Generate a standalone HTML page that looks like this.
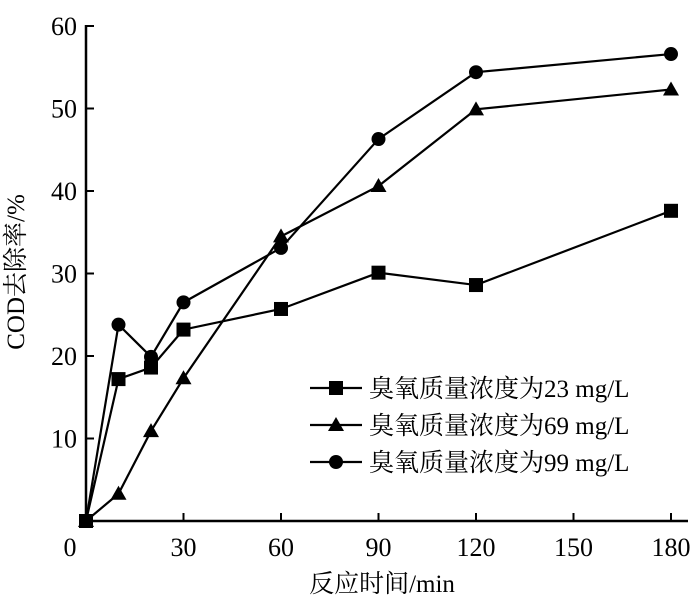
<!DOCTYPE html>
<html><head><meta charset="utf-8"><style>
body{margin:0;background:#fff}
text{font-family:"Liberation Serif","Noto Serif CJK SC",serif;fill:#000}
</style></head><body>
<svg id="c" width="700" height="601" xmlns="http://www.w3.org/2000/svg"></svg>
<script>
const times=[0,10,20,30,60,90,120,180];
const s23=[0,17.2,18.6,23.2,25.7,30.1,28.6,37.6];
const s69=[0,3.3,10.9,17.3,34.5,40.6,49.9,52.3];
const s99=[0,23.8,19.9,26.5,33.1,46.3,54.4,56.6];
const xTicks=[0,30,60,90,120,150,180];
const yTicks=[10,20,30,40,50,60];
const seriesNames=["臭氧质量浓度为23 mg/L","臭氧质量浓度为69 mg/L","臭氧质量浓度为99 mg/L"];
const NS="http://www.w3.org/2000/svg";
const svg=document.getElementById('c');
const X=v=>86+v*585/180, Y=v=>521-v*495/60;
function mk(t,a,p){const e=document.createElementNS(NS,t);for(const k in a)e.setAttribute(k,a[k]);(p||svg).appendChild(e);return e;}
let ax=mk('line',{x1:86,y1:521,x2:688,y2:521,stroke:'#000','stroke-width':2.5});

let ay=mk('line',{x1:86,y1:521,x2:86,y2:25,stroke:'#000','stroke-width':2.5});

xTicks.forEach(v=>{if(v>0)mk('line',{x1:X(v),y1:521,x2:X(v),y2:513,stroke:'#000','stroke-width':2});
 const t=mk('text',{x:X(v)-(v==0?16:0),y:556,'text-anchor':'middle','font-size':26});t.textContent=v;
 });
yTicks.forEach(v=>{mk('line',{x1:86,y1:Y(v),x2:94,y2:Y(v),stroke:'#000','stroke-width':2});
 const t=mk('text',{x:77,y:Y(v)+9,'text-anchor':'end','font-size':26});t.textContent=v;
 });
let xt=mk('text',{x:382,y:592,'text-anchor':'middle','font-size':25});xt.textContent='反应时间/min';

let yt=mk('text',{x:0,y:0,'text-anchor':'middle','font-size':25,transform:'translate(24,272) rotate(-90)'});yt.textContent='COD去除率/%';

function marker(type,x,y,g){
 if(type==0)mk('rect',{x:x-7,y:y-7,width:14,height:14,fill:'#000'},g);
 else if(type==1)mk('polygon',{points:`${x},${y-8} ${x-8},${y+6} ${x+8},${y+6}`,fill:'#000'},g);
 else mk('circle',{cx:x,cy:y,r:7,fill:'#000'},g);}
[s23,s69,s99].forEach((s,i)=>{
 const g=mk('g',{});
 
 mk('polyline',{points:s.map((v,j)=>X(times[j])+','+Y(v)).join(' '),fill:'none',stroke:'#000','stroke-width':2.2},g);
 s.forEach((v,j)=>marker(i,X(times[j]),Y(v),g));
});
const lg=mk('g',{});
seriesNames.forEach((n,i)=>{const y=388+i*37;
 const e=mk('g',{},lg);
 mk('line',{x1:310,y1:y,x2:362,y2:y,stroke:'#000','stroke-width':2.2},e);marker(i,336,y,e);
 const t=mk('text',{x:369,y:y+9,'font-size':25},e);t.textContent=n;});
</script></body></html>
